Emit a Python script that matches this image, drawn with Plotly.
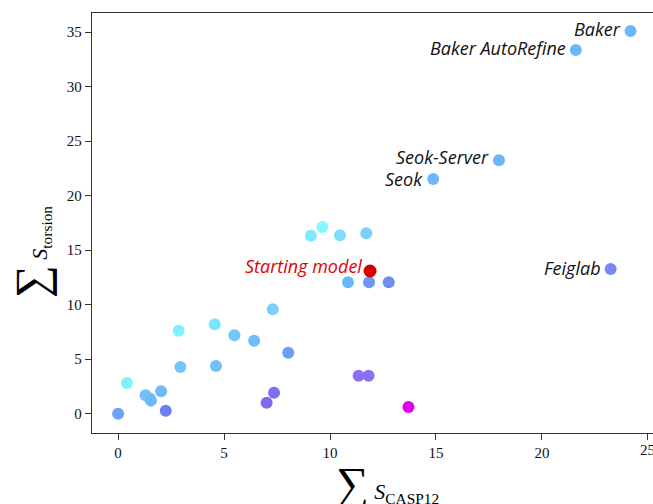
import plotly.graph_objects as go

# Data
x_vals = [0.0, 0.42, 1.3, 1.5, 1.55, 2.03, 2.25, 2.86, 2.94, 4.56, 5.49, 6.42, 7.3, 8.03, 4.62,
          9.1, 9.64, 10.47, 11.71, 10.85, 11.84, 12.77, 11.35, 11.82, 7.36, 7.01, 13.7,
          24.18, 21.6, 17.97, 14.87, 23.24]
y_vals = [0.0, 2.82, 1.7, 1.4, 1.2, 2.05, 0.28, 7.6, 4.28, 8.2, 7.19, 6.7, 9.58, 5.6, 4.38,
          16.33, 17.13, 16.37, 16.55, 12.05, 12.05, 12.05, 3.49, 3.49, 1.93, 1.01, 0.61,
          35.1, 33.37, 23.25, 21.53, 13.28]
colors = ["#6aa6f8", "#7df3ff", "#72c0fa", "#72c0fa", "#70b8f9", "#6cbaf8", "#6f7cf2", "#80f0ff",
          "#72c6fb", "#7ee4fc", "#72c8fa", "#72bcf9", "#76d0fb", "#6c9ef5", "#72c0fa",
          "#7ee8fd", "#84f8ff", "#7edcfc", "#7ad0fb", "#6ab8f8", "#6c98f4", "#6e8cf2",
          "#8a70f0", "#8a70f0", "#7c70ee", "#8468ee", "#e000f0",
          "#6ab8fa", "#6ab8fa", "#6ab8fa", "#6ab8fa", "#7c88f2"]

start_name = "Starting model"
start_x = [11.89]
start_y = [13.09]

label_names = ["Baker", "Baker AutoRefine", "Seok-Server", "Seok", "Feiglab"]
label_index = [27, 28, 29, 30, 31]

x_ticks = [0, 5, 10, 15, 20, 25]
y_ticks = [0, 5, 10, 15, 20, 25, 30, 35]

fig = go.Figure()
fig.add_trace(go.Scatter(x=x_vals, y=y_vals, mode="markers",
                         marker=dict(size=12, color=colors, line=dict(width=0)),
                         showlegend=False, hoverinfo="skip"))
fig.add_trace(go.Scatter(x=start_x, y=start_y, mode="markers",
                         marker=dict(size=13, color="#d40000", line=dict(width=0)),
                         showlegend=False, hoverinfo="skip"))

sans = "'Open Sans', 'Noto Sans', sans-serif"
serif = "'Liberation Serif', 'Times New Roman', serif"

label_font = dict(family=sans, size=18, color="#111111")
label_yshift = {"Baker": 2, "Baker AutoRefine": 2, "Seok-Server": 3, "Seok": 0, "Feiglab": 1}
annotations = []
for name, i in zip(label_names, label_index):
    annotations.append(dict(x=x_vals[i], y=y_vals[i], xref="x", yref="y", text="<i>" + name + "</i>",
                            showarrow=False, xanchor="right", yanchor="middle", xshift=-9,
                            yshift=label_yshift[name], borderpad=0, font=label_font))
annotations.append(dict(x=start_x[0], y=start_y[0], xref="x", yref="y", text="<i>" + start_name + "</i>",
                        showarrow=False, xanchor="right", yanchor="middle", xshift=-6, yshift=5,
                        font=dict(family=sans, size=18, color="#e00000")))

W, H = 653, 504
pl, pt, pb = 92, 13, 71
pw, ph = W - pl, H - pt - pb

def px_to_paper(px, py):
    return (px - pl) / pw, (H - pb - py) / ph

# last x tick label (clipped at right edge, as in the reference)
_, lbl_y = px_to_paper(0, 450)
annotations.append(dict(x=x_ticks[-1], y=lbl_y, xref="x", yref="paper", text=str(x_ticks[-1]),
                        showarrow=False, xanchor="center", yanchor="middle",
                        font=dict(family=serif, size=15, color="#111")))

xt_x, xt_y = px_to_paper(387, 483)
annotations.append(dict(x=xt_x, y=xt_y, xref="paper", yref="paper",
                        text="<span style='font-size:46px'>∑</span> <i>S</i><sub>CASP12</sub>",
                        showarrow=False, xanchor="center", yanchor="middle",
                        font=dict(family=serif, size=22, color="#000")))
yt_x, yt_y = px_to_paper(31, 252)
annotations.append(dict(x=yt_x, y=yt_y, xref="paper", yref="paper",
                        text="<span style='font-size:46px'>∑</span> <i>S</i><sub>torsion</sub>",
                        showarrow=False, textangle=-90, xanchor="center", yanchor="middle",
                        font=dict(family=serif, size=22, color="#000")))

fig.update_layout(
    width=W, height=H,
    margin=dict(l=pl, r=0, t=pt, b=pb, autoexpand=False),
    paper_bgcolor="white", plot_bgcolor="white",
    annotations=annotations,
    xaxis=dict(range=[-1.23, 25.24], tickvals=x_ticks, showgrid=False, zeroline=False,
               showline=True, linecolor="#333", linewidth=1.3, mirror=True,
               ticks="outside", ticklen=6, tickwidth=1.3, tickcolor="#333",
               tickfont=dict(family=serif, size=15, color="#111")),
    yaxis=dict(range=[-1.77, 36.76], tickvals=y_ticks, showgrid=False, zeroline=False,
               showline=True, linecolor="#333", linewidth=1.3,
               ticks="outside", ticklen=6, tickwidth=1.3, tickcolor="#333",
               tickfont=dict(family=serif, size=15, color="#111")),
)

fig.write_html("out.html", config={"displayModeBar": False},
               post_script="document.body.style.margin='0';document.body.style.overflow='hidden';")
